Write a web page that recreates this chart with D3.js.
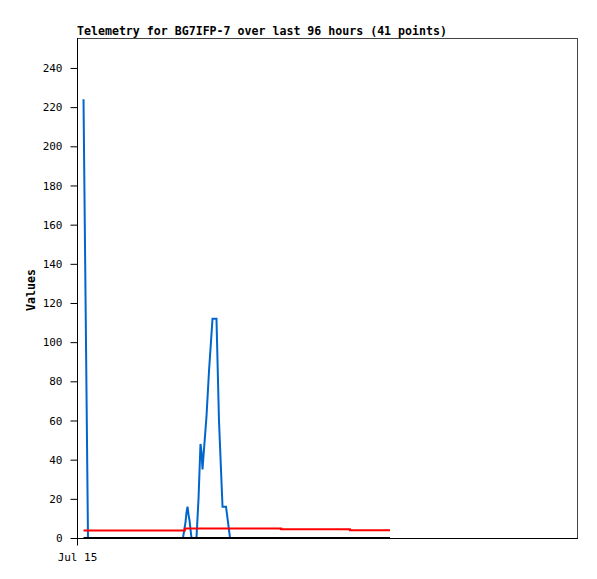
<!DOCTYPE html>
<html>
<head>
<meta charset="utf-8">
<script src="https://cdn.jsdelivr.net/npm/d3@7/dist/d3.min.js"></script>
<style>
  html, body { margin: 0; padding: 0; background: #fff; }
  svg text { font-family: "DejaVu Sans Mono", monospace; }
</style>
</head>
<body>
<svg id="chart" width="597" height="579"></svg>
<script>
// ---- data (hours since Jul 15 00:00) ----
const titleText = "Telemetry for BG7IFP-7 over last 96 hours (41 points)";
const yLabel = "Values";
const yTicks = [0, 20, 40, 60, 80, 100, 120, 140, 160, 180, 200, 220, 240];
const xTickHours = [0];
const xTickLabels = ["Jul 15"];

const blueHours  = [1.25, 2.11, 20.35, 20.83, 21.02, 21.22, 21.41, 21.6, 21.98, 22.94, 23.33, 23.71, 23.9, 24.1, 24.29, 24.86, 25.34, 26.02, 26.78, 27.26, 27.94, 28.61, 29.38, 60.1];
const blueValues = [224, 0, 0, 8, 13, 16, 12, 9, 0, 0, 20, 48, 44, 35, 42, 62, 85, 112, 112, 60, 16, 16, 0, 0];

const redHours  = [1.25, 20.7, 39.2, 52.4, 60.1];
const redValues = [3.8, 4.9, 4.5, 3.9, 3.9];

const blackHours  = [1.25, 60.1];
const blackValues = [0, 0];

// ---- layout ----
const svg = d3.select("#chart");
const L = 77, R = 577, T = 38, B = 538;

const x = d3.scaleLinear().domain([0, 96]).range([L, R]);
const y = d3.scaleLinear().domain([0, 255.3]).range([B, T]);

// frame
svg.append("rect")
  .attr("x", L + 0.5).attr("y", T + 0.5)
  .attr("width", R - L).attr("height", B - T)
  .attr("fill", "#fff").attr("stroke", "#444").attr("stroke-width", 1);

// series
function drawSeries(hours, values, color, curve) {
  const pts = hours.map((h, i) => [h, values[i]]);
  const line = d3.line().x(d => x(d[0])).y(d => y(d[1])).curve(curve);
  svg.append("path")
    .attr("d", line(pts))
    .attr("fill", "none")
    .attr("stroke", color)
    .attr("stroke-width", 2)
    .attr("stroke-linejoin", "miter");
}
drawSeries(blueHours, blueValues, "#0066cc", d3.curveLinear);
drawSeries(redHours, redValues, "#ff0000", d3.curveStepAfter);
drawSeries(blackHours, blackValues, "#000000", d3.curveLinear);

// y axis
const yAxis = d3.axisLeft(y).tickValues(yTicks).tickSize(7).tickPadding(8).tickFormat(d3.format("d"));
const gy = svg.append("g").attr("transform", `translate(${L + 0.5},0)`).call(yAxis);
gy.select(".domain").remove();
gy.selectAll("line").attr("stroke", "#000");
gy.selectAll("text").attr("font-size", "11px").attr("fill", "#000");
svg.append("line").attr("x1", L + 0.5).attr("x2", L + 0.5).attr("y1", T).attr("y2", B + 7)
  .attr("stroke", "#000");

// x axis
const xAxis = d3.axisBottom(x).tickValues(xTickHours).tickSize(7).tickPadding(8)
  .tickFormat((d, i) => xTickLabels[i]);
const gx = svg.append("g").attr("transform", `translate(0,${B + 0.5})`).call(xAxis);
gx.select(".domain").remove();
gx.selectAll("line").attr("stroke", "#000");
gx.selectAll("text").attr("font-size", "11px").attr("fill", "#000");
svg.append("line").attr("x1", L).attr("x2", R + 1).attr("y1", B + 0.5).attr("y2", B + 0.5)
  .attr("stroke", "#000");

// title
svg.append("text").attr("x", L).attr("y", 35)
  .attr("font-size", "11.6px").attr("font-weight", "bold").attr("fill", "#000")
  .text(titleText);

// y label
svg.append("text")
  .attr("transform", "translate(35,290) rotate(-90)")
  .attr("text-anchor", "middle")
  .attr("font-size", "11.6px").attr("font-weight", "bold").attr("fill", "#000")
  .text(yLabel);
</script>
</body>
</html>
